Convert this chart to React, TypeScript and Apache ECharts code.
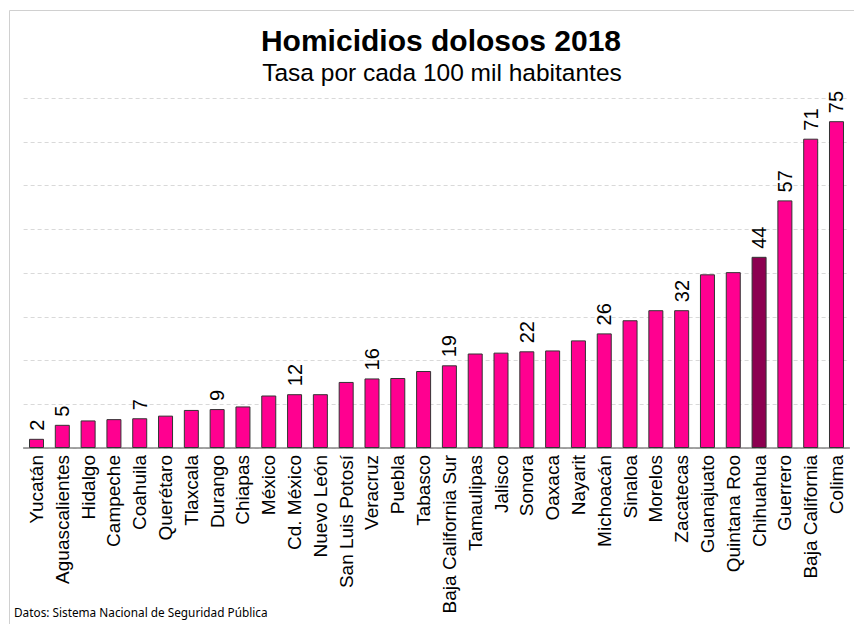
import React, { useEffect, useRef } from "react";
import * as echarts from "echarts";

const categories = [
  "Yucatán", "Aguascalientes", "Hidalgo", "Campeche", "Coahuila", "Querétaro",
  "Tlaxcala", "Durango", "Chiapas", "México", "Cd. México", "Nuevo León",
  "San Luis Potosí", "Veracruz", "Puebla", "Tabasco", "Baja California Sur",
  "Tamaulipas", "Jalisco", "Sonora", "Oaxaca", "Nayarit", "Michoacán",
  "Sinaloa", "Morelos", "Zacatecas", "Guanajuato", "Quintana Roo",
  "Chihuahua", "Guerrero", "Baja California", "Colima",
];

const rates = [
  2.1, 5.3, 6.3, 6.6, 6.8, 7.4, 8.7, 8.9, 9.5, 12.0, 12.3, 12.3, 15.1, 15.9,
  16.0, 17.6, 18.9, 21.6, 21.8, 22.1, 22.3, 24.6, 26.2, 29.2, 31.5, 31.5,
  39.7, 40.2, 43.7, 56.6, 70.7, 74.7,
];

const labeledStates = [
  "Yucatán", "Aguascalientes", "Coahuila", "Durango", "Cd. México", "Veracruz",
  "Baja California Sur", "Sonora", "Michoacán", "Zacatecas", "Chihuahua",
  "Guerrero", "Baja California", "Colima",
];

const highlighted = "Chihuahua";

const yTicks = { min: 0, max: 80, interval: 10 };

export default function App() {
  const ref = useRef<HTMLDivElement>(null);
  useEffect(() => {
    document.body.style.margin = "0";
    const chart = echarts.init(ref.current!, null, { renderer: "svg" });
    const data = categories.map((c, i) => ({
      value: rates[i],
      itemStyle: { color: c === highlighted ? "#8C0050" : "#FF0090" },
      label: { show: labeledStates.includes(c) },
    }));
    chart.setOption({
      animation: false,
      backgroundColor: "#fff",
      title: [
        {
          text: "Homicidios dolosos 2018",
          left: 436,
          top: 20,
          textAlign: "center",
          textStyle: {
            fontFamily: "Liberation Sans",
            fontWeight: "bold",
            fontSize: 30,
            color: "#000",
          },
        },
        {
          text: "Tasa por cada 100 mil habitantes",
          left: 437,
          top: 55,
          textAlign: "center",
          textStyle: {
            fontFamily: "Liberation Sans",
            fontWeight: "normal",
            fontSize: 24.5,
            color: "#000",
          },
        },
      ],
      graphic: [
        {
          type: "polyline",
          shape: { points: [[9.5, 624], [9.5, 10.5], [854, 10.5]] },
          style: { stroke: "#d0d0d0", lineWidth: 1, fill: null },
          silent: true,
        },
        {
          type: "text",
          left: 14,
          top: 606,
          style: {
            text: "Datos: Sistema Nacional de Seguridad Pública",
            fontFamily: "Noto Sans",
            fontSize: 11.8,
            fill: "#000",
          },
        },
      ],
      grid: { left: 23.6, right: 4.6, top: 98, bottom: 176, containLabel: false },
      xAxis: {
        type: "category",
        data: categories,
        axisLine: { lineStyle: { color: "#868686", width: 1.5 } },
        axisTick: { show: false },
        axisLabel: {
          interval: 0,
          rotate: 90,
          margin: 7,
          fontSize: 19,
          fontFamily: "Liberation Sans",
          color: "#000",
        },
      },
      yAxis: {
        type: "value",
        min: yTicks.min,
        max: yTicks.max,
        interval: yTicks.interval,
        axisLabel: { show: false },
        axisLine: { show: false },
        axisTick: { show: false },
        splitLine: { lineStyle: { color: "#d9d9d9", type: [4, 3], width: 1 } },
      },
      series: [
        {
          type: "bar",
          data,
          barWidth: 15,
          itemStyle: { borderColor: "#333", borderWidth: 1 },
          label: {
            position: "top",
            rotate: 90,
            align: "left",
            verticalAlign: "middle",
            distance: 8,
            fontSize: 20,
            fontFamily: "Liberation Sans",
            color: "#000",
            formatter: (p: any) => String(Math.round(p.value)),
          },
        },
      ],
    });
    return () => chart.dispose();
  }, []);
  return <div ref={ref} style={{ width: 854, height: 624 }} />;
}
